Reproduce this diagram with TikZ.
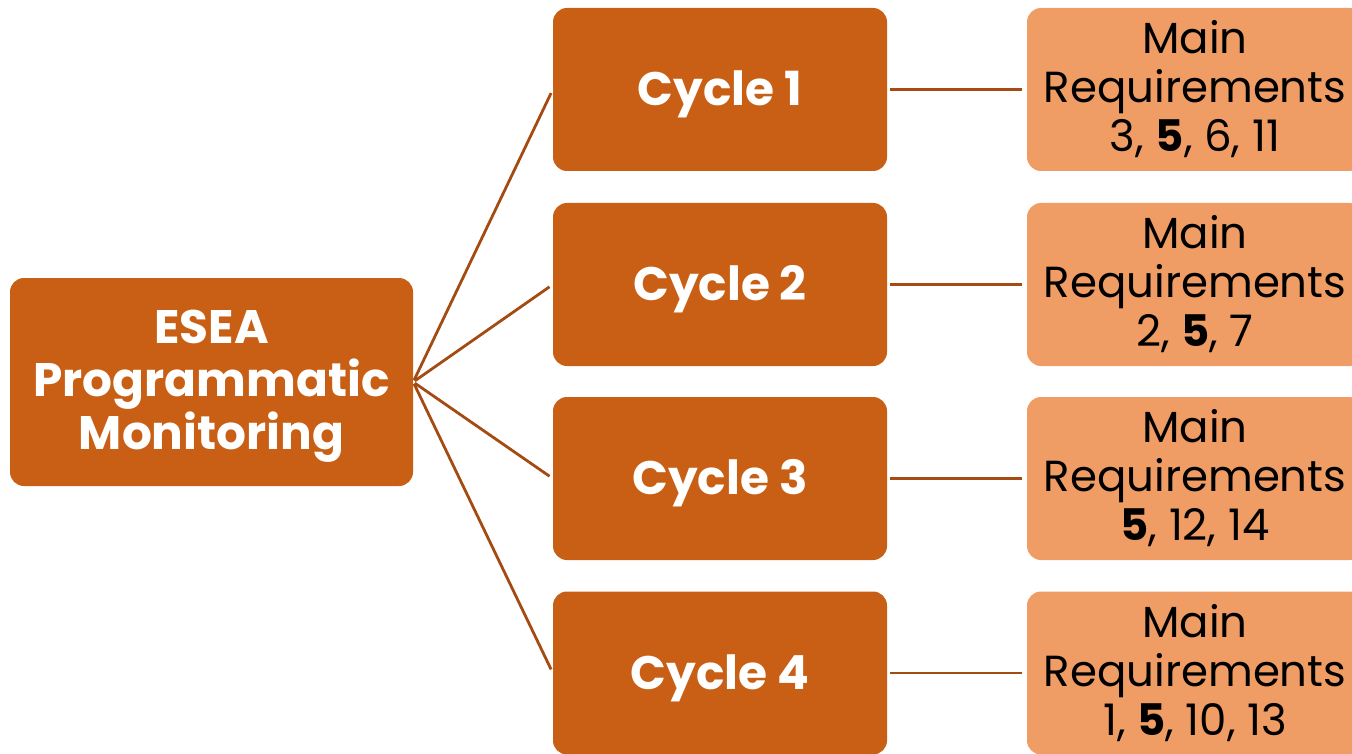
\documentclass[tikz,border=0pt]{standalone}
\usepackage{fontspec}
\setmainfont{Poppins}
\definecolor{boxdark}{HTML}{C95F14}
\definecolor{boxlight}{HTML}{EF9D64}
\definecolor{linkcol}{HTML}{A44B12}
\newcommand{\lowertext}[2]{\raisebox{-#1}[\height][\depth]{#2}}
\begin{document}
\begin{tikzpicture}[x=1pt,y=-1pt,
  rootbox/.style={fill=boxdark,rounded corners=14pt,minimum width=403pt,minimum height=208pt,inner sep=0pt,
    text=white,align=center,font=\fontsize{47}{53}\selectfont\bfseries},
  cyclebox/.style={fill=boxdark,rounded corners=14pt,minimum width=334pt,minimum height=163pt,inner sep=0pt,
    text=white,font=\fontsize{47}{53}\selectfont\bfseries},
  reqbox/.style={fill=boxlight,rounded corners=14pt,minimum width=336pt,minimum height=163pt,inner sep=0pt,
    text=black,align=center,font=\fontsize{43.5}{49}\selectfont},
  link/.style={draw=linkcol,line width=2.8pt}]
\useasboundingbox (0,0) rectangle (1352,754);
\clip (0,0) rectangle (1352,754);
\node[rootbox] (root) at (211.5,382) {\lowertext{4pt}{ESEA}\\\lowertext{4pt}{Programmatic}\\\lowertext{4pt}{Monitoring}};
\node[cyclebox] (c1) at (720,89.5) {\lowertext{5pt}{Cycle 1}};
\node[cyclebox] (c2) at (720,284.5) {\lowertext{5pt}{Cycle 2}};
\node[cyclebox] (c3) at (720,478.5) {\lowertext{5pt}{Cycle 3}};
\node[cyclebox] (c4) at (720,673) {\lowertext{5pt}{Cycle 4}};
\node[reqbox] (r1) at (1195,89.5) {Main\\Requirements\\3, \textbf{5}, 6, 11};
\node[reqbox] (r2) at (1195,284.5) {Main\\Requirements\\2, \textbf{5}, 7};
\node[reqbox] (r3) at (1195,478.5) {Main\\Requirements\\\textbf{5}, 12, 14};
\node[reqbox] (r4) at (1195,673) {Main\\Requirements\\1, \textbf{5}, 10, 13};
\foreach \c in {c1,c2,c3,c4}{
  \draw[link,shorten <=2pt,shorten >=4pt] (root.east) -- (\c.west);
}
\foreach \c/\r in {c1/r1,c2/r2,c3/r3,c4/r4}{
  \draw[link,shorten <=3pt,shorten >=5pt] (\c.east) -- (\r.west);
}
\end{tikzpicture}
\end{document}
